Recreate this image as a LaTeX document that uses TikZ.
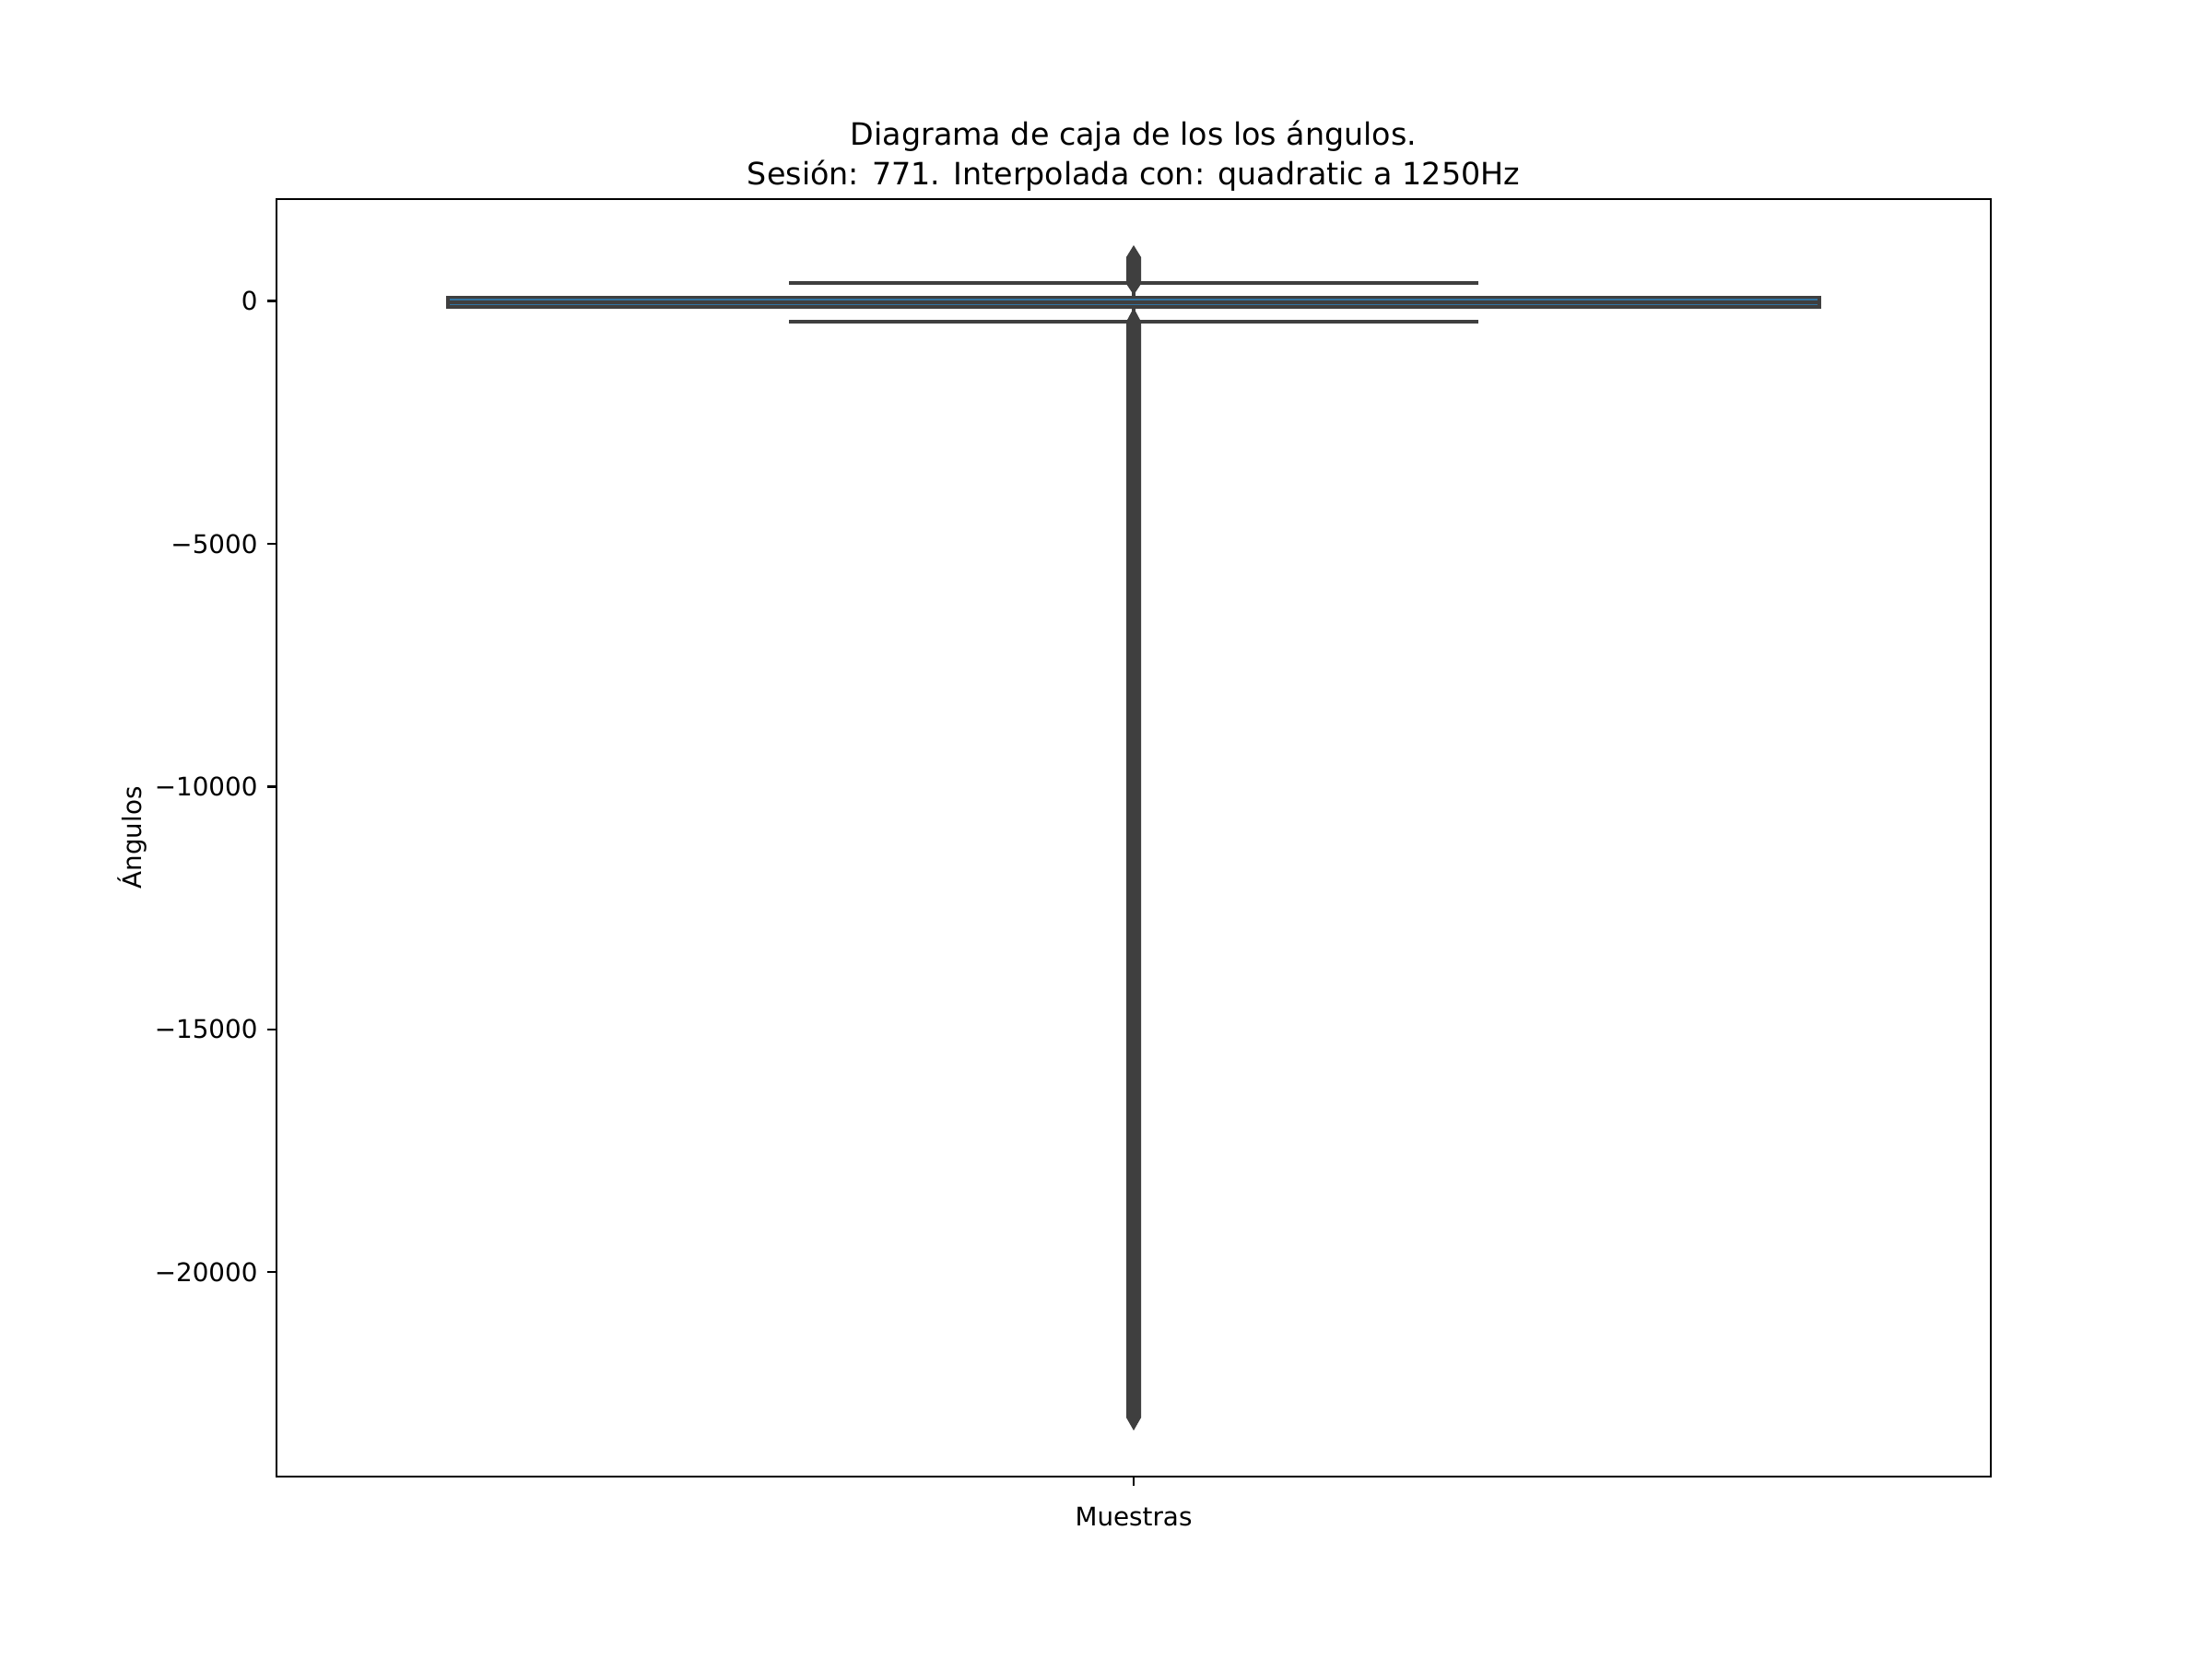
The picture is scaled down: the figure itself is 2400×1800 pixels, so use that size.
\documentclass[tikz,border=0pt]{standalone}
\usepackage{fontspec}
\setmainfont{DejaVu Sans}
\definecolor{sgray}{HTML}{3F3F3F}
\definecolor{sblue}{HTML}{3274A1}
\tikzset{
  axisline/.style={black, line width=0.8pt},
  ticklbl/.style={anchor=east, inner sep=0pt, font=\fontsize{10}{12}\selectfont},
  lbl/.style={inner sep=0pt, font=\fontsize{10}{12}\selectfont},
  ttl/.style={anchor=base, inner sep=0pt, font=\fontsize{12}{14}\selectfont},
  capline/.style={sgray, line width=1.44pt},
  flier/.style={fill=sgray, draw=none}
}
\begin{document}
\begin{tikzpicture}[x=0.36pt, y=-0.36pt]
\useasboundingbox[fill=white] (0,0) rectangle (2400,1800);
% title
\node[ttl] (t1) at (1230,157.3) {Diagrama de caja de los los ángulos.};
\node[ttl] (t2) at (1230,200) {Sesión: 771. Interpolada con: quadratic a 1250Hz};
% box
\fill[sgray] (484,320.7) rectangle (1976,335);
\draw[sblue, line width=0.4pt] (488,325) -- (1972,325);
\draw[sblue, line width=0.4pt] (488,330.3) -- (1972,330.3);
% whiskers and caps
\draw[capline] (1230,306.7) -- (1230,320.7);
\draw[capline] (1230,335) -- (1230,349);
\draw[capline] (856,306.7) -- (1604,306.7);
\draw[capline] (856,349) -- (1604,349);
% fliers
\fill[flier] (1230,266) -- (1238,279) -- (1238,308) -- (1230,320) -- (1222,308) -- (1222,279) -- cycle;
\fill[flier] (1230,334) -- (1238,349) -- (1238,1538) -- (1230,1552) -- (1222,1538) -- (1222,349) -- cycle;
% axes frame
\draw[axisline] (300,216) rectangle (2160,1602);
% y ticks (values in thousands)
\foreach \v/\t in {0/0,5/−5000,10/−10000,15/−15000,20/−20000}{
  \pgfmathsetmacro{\yy}{326.6+\v*52.68}
  \draw[axisline] (290,\yy) -- (300,\yy);
  \node[ticklbl] at (280,\yy) {\t};
}
% x tick
\draw[axisline] (1230,1602) -- (1230,1612);
\node[lbl, anchor=base] (xl) at (1230,1655) {Muestras};
\node[lbl, anchor=base, rotate=90] (yl) at (153,909) {Ángulos};
\end{tikzpicture}
\end{document}
